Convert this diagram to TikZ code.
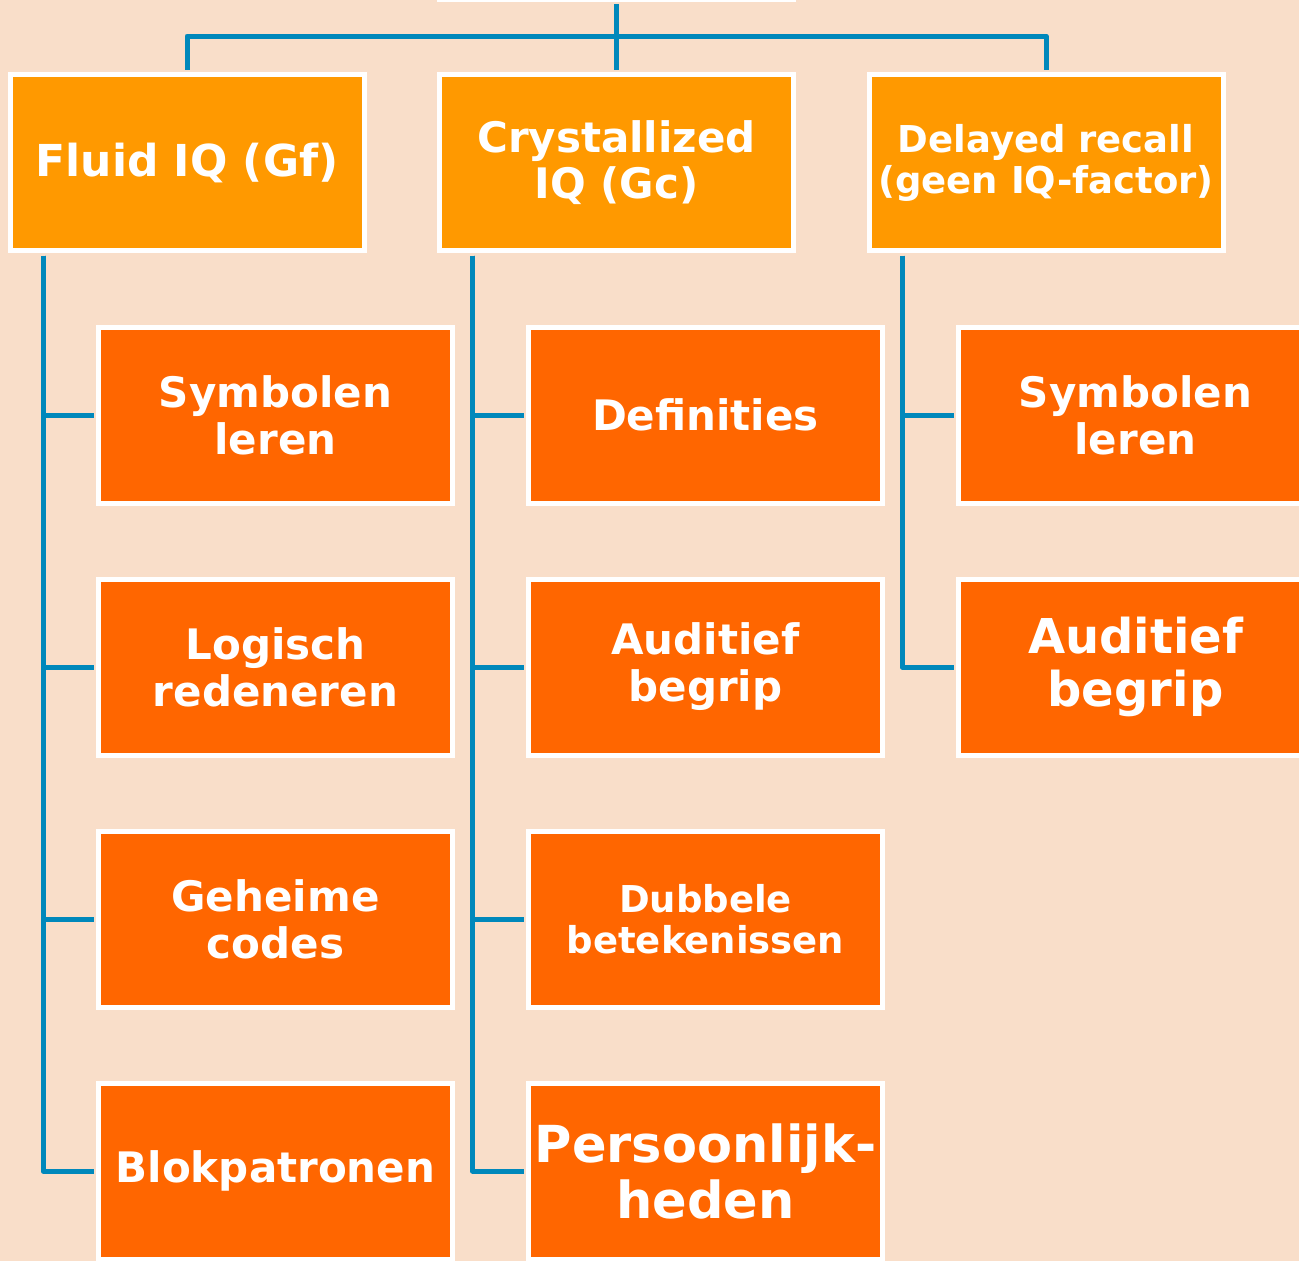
\documentclass[tikz,border=0pt]{standalone}
\usepackage{fontspec}
\setmainfont{DejaVu Sans}
\definecolor{bgpeach}{HTML}{F9DEC9}
\definecolor{catorange}{HTML}{FF9900}
\definecolor{taskorange}{HTML}{FF6600}
\definecolor{treeblue}{HTML}{0088BB}
\tikzset{
  box/.style={draw=white, line width=5pt, rectangle, align=center, text=white,
    minimum width=354pt, minimum height=176pt, inner sep=0pt},
  catbox/.style={box, fill=catorange},
  taskbox/.style={box, fill=taskorange},
  fs/.style 2 args={font=\bfseries\fontsize{#1}{#2}\selectfont},
  conn/.style={draw=treeblue, line width=5pt, line join=round},
}
\begin{document}
\begin{tikzpicture}[x=1pt, y=-1pt]
  \fill[bgpeach] (0,0) rectangle (1299,1261);
  \useasboundingbox (0,0) rectangle (1299,1261);

  \coordinate (bus) at (616.5,36);

  % top-level categories
  \node[catbox] (root) at (616.5,-89) {};
  \node[catbox, fs={44}{47}] (fluid) at (187,162.5) {Fluid IQ (Gf)};
  \node[catbox, fs={42}{46}] (cryst) at (616.5,162.5) {Crystallized\\IQ (Gc)};
  \node[catbox, fs={37}{41}] (delay) at (1046,162.5) {Delayed recall\\(geen IQ-factor)};

  % subtests
  \node[taskbox, fs={42}{47}] (f1) at (275.5,415) {Symbolen\\leren};
  \node[taskbox, fs={42}{47}] (f2) at (275.5,667) {Logisch\\redeneren};
  \node[taskbox, fs={42}{47}] (f3) at (275.5,919) {Geheime\\codes};
  \node[taskbox, fs={42}{47}] (f4) at (275.5,1171) {Blokpatronen};

  \node[taskbox, fs={42}{47}] (c1) at (705.5,415) {Definities};
  \node[taskbox, fs={42}{47}] (c2) at (705.5,667) {Auditief\\begrip};
  \node[taskbox, fs={37}{41}] (c3) at (705.5,919) {Dubbele\\betekenissen};
  \node[taskbox, fs={51}{56}] (c4) at (705.5,1171) {Persoonlijk-\\heden};

  \node[taskbox, fs={42}{47}] (d1) at (1135.5,415) {Symbolen\\leren};
  \node[taskbox, fs={48}{53}] (d2) at (1135.5,667) {Auditief\\begrip};

  % tree lines
  \draw[conn, shorten <=2.5pt, shorten >=2.5pt] (root.south) -- (cryst.north);
  \draw[conn, shorten >=2.5pt] (bus) -| (fluid.north);
  \draw[conn, shorten >=2.5pt] (bus) -| (delay.north);

  \foreach \p/\c in {fluid/f,cryst/c} {
    \foreach \i in {1,...,4}
      \draw[conn, shorten <=2.5pt, shorten >=2.5pt]
        ([xshift=35.5pt]\p.south west) |- (\c\i.west);
  }
  \foreach \i in {1,2}
    \draw[conn, shorten <=2.5pt, shorten >=2.5pt]
      ([xshift=35.5pt]delay.south west) |- (d\i.west);
\end{tikzpicture}
\end{document}
